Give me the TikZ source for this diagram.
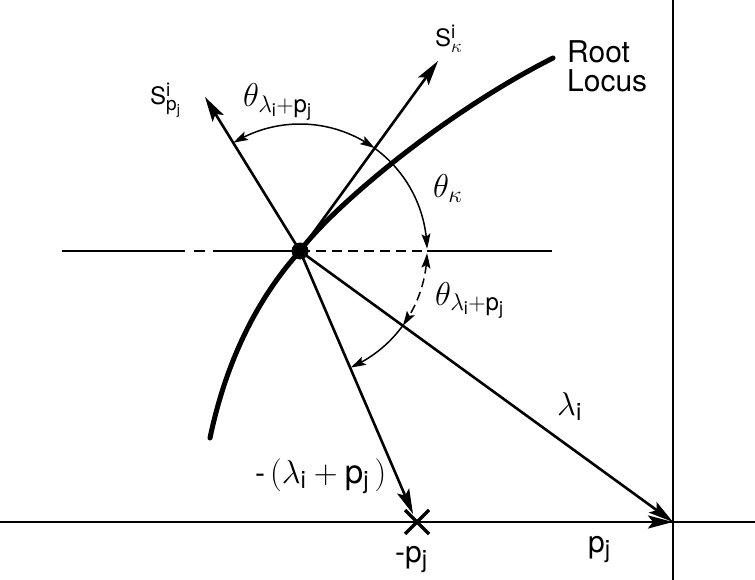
\RequirePackage{fix-cm}
\documentclass[tikz,border=0pt]{standalone}
\usepackage{fontspec}
\setmainfont{TeX Gyre Heros}
\setsansfont{TeX Gyre Heros}
\usetikzlibrary{arrows.meta,bending}
\DeclareMathSizes{30}{33}{24}{18}
\DeclareMathSizes{24}{24}{19}{14}
\tikzset{
  lbl/.style={font=\fontsize{30}{34}\selectfont, inner sep=0pt, anchor=base west},
  slbl/.style={font=\fontsize{24}{28}\selectfont, inner sep=0pt, anchor=base west},
  vec/.style={line width=2.6pt, -{Stealth[length=25pt,width=13pt,inset=5pt]}},
  axisline/.style={line width=1.6pt},
  angarc/.style={line width=1.5pt},
  atip/.tip={Stealth[length=15pt,width=9pt,inset=3pt,bend]},
}
\begin{document}
\begin{tikzpicture}[x=1pt,y=-1pt]
\useasboundingbox (0,0) rectangle (755,580);
% axes
\coordinate (ax1) at (0,522);
\coordinate (ax2) at (755,522);
\coordinate (ay1) at (673,0);
\coordinate (ay2) at (673,580);
\draw[axisline] (ax1) -- (ax2);
\draw[axisline] (ay1) -- (ay2);
\coordinate (o) at (673,522);
% centre point
\node[circle, fill, minimum size=17pt, inner sep=0pt] (c) at (300,251) {};
% horizontal reference line through centre
\coordinate (h1) at (62,251);
\coordinate (h2) at (185,251);
\coordinate (h3) at (194,251);
\coordinate (h4) at (205,251);
\coordinate (h5) at (213,251);
\coordinate (h6) at (427,251);
\coordinate (h7) at (552,251);
\draw[line width=2pt] (h1) -- (h2);
\draw[line width=2pt] (h3) -- (h4);
\draw[line width=2pt] (h5) -- (c.center);
\draw[line width=2pt, dash pattern=on 10pt off 6pt] (c.center) -- (h6);
\draw[line width=2pt] (h6) -- (h7);
% root locus
\coordinate (rl1) at (210,438);
\coordinate (rl2) at (553,58);
\draw[line width=5pt, line cap=round] (rl1) .. controls (228,352) and (263,292) .. (c.center)
  .. controls (330,210) and (440,115) .. (rl2);
% vectors
\coordinate (spj) at (205,97);
\coordinate (sk) at (438,61);
\coordinate (mptip) at (413,514);
\coordinate (mp) at (417,522);
\draw[vec] (c.center) -- (spj);
\draw[vec] (c.center) -- (sk);
\draw[vec] (c.center) -- (o);
\draw[vec] (c.center) -- (mptip);
\draw[vec] (mp) -- (o);
% cross at -p_j
\coordinate (x1) at (405,510);
\coordinate (x2) at (429,534);
\coordinate (x3) at (405,534);
\coordinate (x4) at (429,510);
\draw[line width=3.5pt] (x1) -- (x2);
\draw[line width=3.5pt] (x3) -- (x4);
% angle arcs (pixel angles, y downward)
\draw[angarc, atip-atip] (c.center) ++(-121.7:127) arc[start angle=-121.7, end angle=-54, radius=127];
\draw[angarc, -atip] (c.center) ++(-54:127) arc[start angle=-54, end angle=-1, radius=127];
\draw[angarc, dash pattern=on 9pt off 5pt, atip-atip] (c.center) ++(1:127) arc[start angle=1, end angle=36, radius=127];
\draw[angarc, -atip] (c.center) ++(36:127) arc[start angle=36, end angle=66.5, radius=127];
% labels
\node[slbl] (lspj) at (150,105) {$\mathrm{S}^{\mathrm{i}}_{\mathrm{p}_{\mathrm{j}}}$};
\node[slbl] (lsk) at (435,47) {$\mathrm{S}^{\mathrm{i}}_{\kappa}$};
\node[lbl] (lt1) at (243,107) {$\theta_{\lambda_{\mathrm{i}}+\mathrm{p}_{\mathrm{j}}}$};
\node[lbl] (ltk) at (433,198) {$\theta_{\kappa}$};
\node[lbl] (lt2) at (435,305) {$\theta_{\lambda_{\mathrm{i}}+\mathrm{p}_{\mathrm{j}}}$};
\node[lbl] (llam) at (557,415) {$\lambda_{\mathrm{i}}$};
\node[lbl] (lmlp) at (255,483) {-\,$(\lambda_{\mathrm{i}}+\mathrm{p}_{\mathrm{j}}\,)$};
\node[lbl] (lmp) at (395,562) {-p$_{\mathrm{j}}$};
\node[lbl] (lp) at (588,552) {p$_{\mathrm{j}}$};
\node[lbl] (root) at (567,63) {Root};
\node[lbl] (locus) at (567,92) {Locus};
\end{tikzpicture}
\end{document}
